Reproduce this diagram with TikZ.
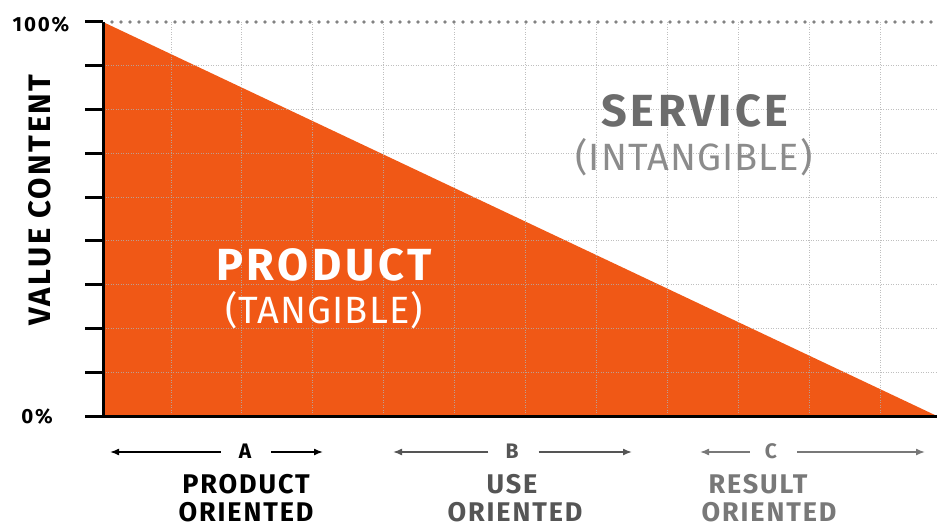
\documentclass[tikz,border=0pt]{standalone}
\usepackage{fontspec}
\setmainfont{Fira Sans}
\usetikzlibrary{arrows.meta}
\definecolor{prodorange}{RGB}{240,88,22}
\definecolor{servgray}{RGB}{108,108,108}
\definecolor{intgray}{RGB}{140,140,140}
\definecolor{bgray}{RGB}{85,85,85}
\definecolor{cgray}{RGB}{120,120,120}
\definecolor{gridgray}{RGB}{175,175,175}
\definecolor{dotgray}{RGB}{130,130,130}
\tikzset{
  axisline/.style={line width=3pt, black},
  gridline/.style={gridgray, line width=0.9pt, dash pattern=on 1pt off 1.5pt, opacity=0.8},
  topline/.style={dotgray, line width=3.8pt, line cap=round, dash pattern=on 0pt off 9pt},
  bigbold/.style={font=\fontsize{45}{45}\selectfont\bfseries\addfontfeatures{LetterSpace=8}, anchor=base, inner sep=0pt},
  biglight/.style={font=\fontsize{38}{38}\selectfont\addfontfeatures{LetterSpace=3}, anchor=base, inner sep=0pt},
  axlabel/.style={font=\fontsize{20.5}{20.5}\selectfont\bfseries\addfontfeatures{LetterSpace=9}, anchor=base, inner sep=0pt},
  catlabel/.style={font=\fontsize{27}{27}\selectfont\bfseries\addfontfeatures{LetterSpace=7}, anchor=base, inner sep=0pt},
  letterlabel/.style={font=\fontsize{21}{21}\selectfont\bfseries, anchor=base, inner sep=0pt},
  rangearrow/.style={line width=1.5pt, -{Latex[length=9pt,width=7pt]}},
}
\begin{document}
\begin{tikzpicture}[x=1pt,y=-1pt]
\useasboundingbox (0,0) rectangle (937,524);
\clip (0,0) rectangle (937,524);
% axes coordinates
\coordinate (T) at (103,22);
\coordinate (O) at (103,416);
\coordinate (R) at (937,416);
% orange triangle
\fill[prodorange] (T) -- (O) -- (R) -- cycle;
% grid
\foreach \k in {1,...,8}{
  \draw[gridline] (103,{22+43.78*\k}) -- (937,{22+43.78*\k});
}
\foreach \k in {0,...,10}{
  \draw[gridline] ({171+70.9*\k},22) -- ({171+70.9*\k},416);
}
\draw[topline] (112,22) -- (937,22);
% ticks
\foreach \k in {0,...,9}{
  \draw[axisline] (85,{22+43.78*\k}) -- (103,{22+43.78*\k});
}
\draw[axisline] (T) -- (O);
\draw[axisline] (85,416) -- (R);
% axis labels
\node[axlabel] (p100) at (41,32) {100\%};
\node[axlabel] (p0) at (37,423) {0\%};
\node[font=\fontsize{31}{31}\selectfont\bfseries\addfontfeatures{LetterSpace=8}, rotate=90, anchor=base, inner sep=0pt] (vc) at (50,200) {VALUE CONTENT};
% region labels
\node[bigbold, servgray] (serv) at (695,127) {SERVICE};
\node[biglight, intgray] (intang) at (694,170) {(INTANGIBLE)};
\node[bigbold, white] (prod) at (324,280) {PRODUCT};
\node[biglight, white] (tang) at (324,323) {(TANGIBLE)};
% categories
\node[letterlabel, black] (A) at (245,458) {A};
\node[catlabel, black] (Aa) at (246,493) {PRODUCT};
\node[catlabel, black] (Ab) at (246,521) {ORIENTED};
\coordinate (AL) at (110,452);
\coordinate (AR) at (323,452);
\draw[rangearrow, black] (A.west |- AL) ++(-18,0) -- (AL);
\draw[rangearrow, black] (A.east |- AR) ++(20,0) -- (AR);

\node[letterlabel, bgray] (B) at (512,458) {B};
\node[catlabel, bgray] (Ba) at (512,493) {USE};
\node[catlabel, bgray] (Bb) at (515,521) {ORIENTED};
\coordinate (BL) at (393,452);
\coordinate (BR) at (632,452);
\draw[rangearrow, bgray] (B.west |- BL) ++(-17,0) -- (BL);
\draw[rangearrow, bgray] (B.east |- BR) ++(20,0) -- (BR);

\node[letterlabel, cgray] (C) at (771,458) {C};
\node[catlabel, cgray] (Ca) at (758,493) {RESULT};
\node[catlabel, cgray] (Cb) at (769,521) {ORIENTED};
\coordinate (CL) at (700,452);
\coordinate (CR) at (925,452);
\draw[rangearrow, cgray] (C.west |- CL) ++(-15,0) -- (CL);
\draw[rangearrow, cgray] (C.east |- CR) ++(20,0) -- (CR);
\end{tikzpicture}
\end{document}
